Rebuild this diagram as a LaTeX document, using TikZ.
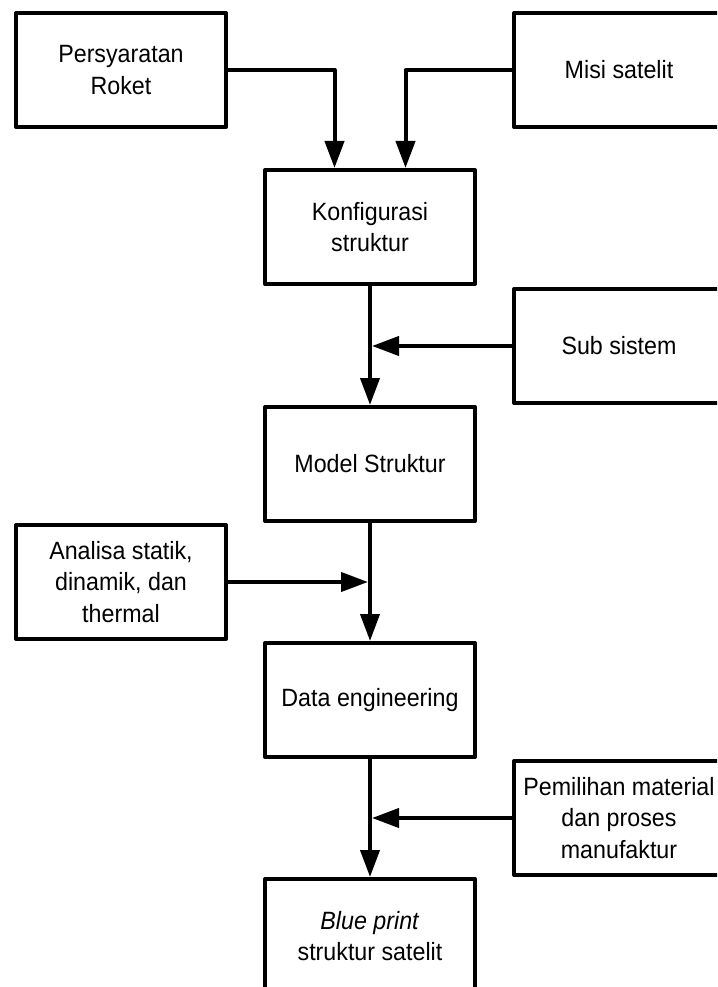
\documentclass[tikz,border=0pt]{standalone}
\usepackage{fontspec}
\setmainfont{Liberation Sans}[FakeStretch=0.93]
\usetikzlibrary{arrows.meta}
\begin{document}
\begin{tikzpicture}[x=1pt,y=-1pt,
  box/.style={draw, line width=4pt, line join=round, minimum width=210pt, minimum height=114pt,
    inner sep=0pt, align=center, font=\fontsize{25}{31.5}\selectfont},
  arr/.style={line width=4pt, line join=round, -{Triangle[length=27pt,width=19pt]}}]
\useasboundingbox (0,0) rectangle (717,987);
\clip (0,0) rectangle (717,987);
\node[box] (pers) at (121,70) {Persyaratan\\Roket};
\node[box] (misi) at (619,70) {Misi satelit};
\node[box] (konf) at (370,227) {Konfigurasi\\struktur};
\node[box] (sub) at (619,346) {Sub sistem};
\node[box] (model) at (370,464) {Model Struktur};
\node[box] (anal) at (121,582) {Analisa statik,\\dinamik, dan\\thermal};
\node[box] (data) at (370,700) {Data engineering};
\node[box] (pemi) at (619,818) {Pemilihan material\\dan proses\\manufaktur};
\node[box] (blue) at (370,936) {\textit{Blue print}\\struktur satelit};
\draw[arr] (pers.east) -| ([xshift=-35.5pt]konf.north);
\draw[arr] (misi.west) -| ([xshift=35.5pt]konf.north);
\draw[arr] (konf.south) -- (model.north);
\draw[arr, shorten >=2pt] (sub.west) -- (sub.west -| konf.south);
\draw[arr] (model.south) -- (data.north);
\draw[arr, shorten >=2pt] (anal.east) -- (anal.east -| model.south);
\draw[arr] (data.south) -- (blue.north);
\draw[arr, shorten >=2pt] (pemi.west) -- (pemi.west -| data.south);
\end{tikzpicture}
\end{document}
